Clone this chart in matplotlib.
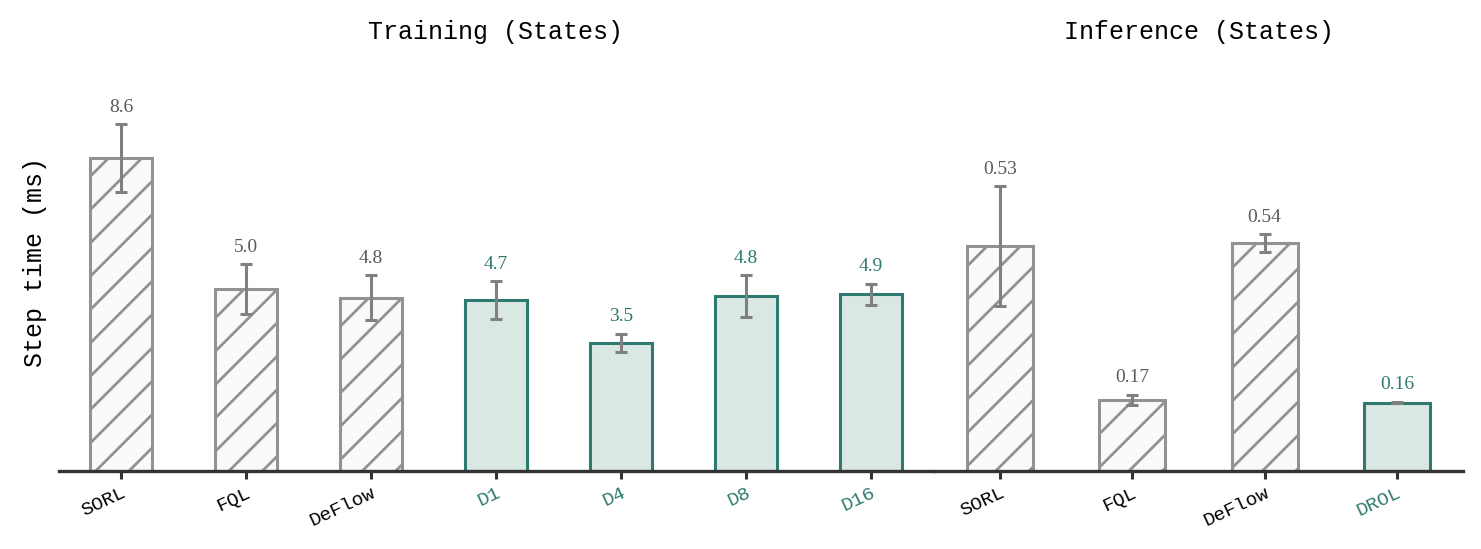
import numpy as np
import matplotlib
matplotlib.use('Agg')
import matplotlib.pyplot as plt


train_methods = ['SORL', 'FQL', 'DeFlow', 'D1', 'D4', 'D8', 'D16']
train_means = [8.6, 5.0, 4.76, 4.7, 3.52, 4.81, 4.86]
train_errs = [0.93, 0.69, 0.62, 0.52, 0.26, 0.58, 0.29]
train_ours = [False, False, False, True, True, True, True]

infer_methods = ['SORL', 'FQL', 'DeFlow', 'DROL']
infer_means = [0.53, 0.167, 0.537, 0.161]
infer_errs = [0.141, 0.0126, 0.0205, 0.002]
infer_ours = [False, False, False, True]

GRAY_EDGE = '#929292'
GRAY_FILL = '#fafafa'
TEAL_EDGE = '#2e7a70'
TEAL_FILL = '#dae8e4'
MONO = 'Liberation Mono'
SERIF = 'Liberation Serif'

plt.rcParams['hatch.linewidth'] = 1.0

fig = plt.figure(figsize=(7.405, 2.745), dpi=200)
W, H = 1481, 549
ax1 = fig.add_axes([58.5 / W, 78 / H, 875 / W, 400 / H])
ax2 = fig.add_axes([934 / W, 78 / H, 529 / W, 400 / H])


def draw(ax, methods, means, errs, ours, ymax, fmt, title):
    x = np.arange(len(methods))
    for i in range(len(methods)):
        if ours[i]:
            ax.bar(x[i], means[i], 0.5, color=TEAL_FILL, edgecolor=TEAL_EDGE,
                   linewidth=1.1, zorder=2)
        else:
            ax.bar(x[i], means[i], 0.5, color=GRAY_FILL, edgecolor=GRAY_EDGE,
                   linewidth=1.1, hatch='//', zorder=2)
    ax.errorbar(x, means, yerr=errs, fmt='none', ecolor='#808080',
                elinewidth=1.1, capsize=2.3, capthick=1.1, zorder=3)
    for i in range(len(methods)):
        c = TEAL_EDGE if ours[i] else '#5a5a5a'
        ax.annotate(fmt.format(means[i]), (x[i], means[i] + errs[i]),
                    xytext=(0, 3), textcoords='offset points', ha='center',
                    va='bottom', fontsize=7, family=SERIF, color=c)
    ax.set_xlim(-0.5, len(methods) - 0.5)
    ax.set_ylim(0, ymax)
    ax.set_xticks(x)
    ax.set_xticklabels(methods, rotation=25, ha='right', rotation_mode='anchor',
                       fontsize=7, family=MONO)
    for lbl, o in zip(ax.get_xticklabels(), ours):
        lbl.set_color(TEAL_EDGE if o else 'black')
    ax.set_yticks([])
    for s in ['left', 'right', 'top']:
        ax.spines[s].set_visible(False)
    ax.spines['bottom'].set_color('#333333')
    ax.spines['bottom'].set_linewidth(1.2)
    ax.tick_params(axis='x', length=2.8, width=1.1, color='#333333', pad=2)
    ax.set_title(title, fontsize=9, family=MONO, pad=0, y=1.08)


draw(ax1, train_methods, train_means, train_errs, train_ours, 11.0, '{:.1f}',
     'Training (States)')
draw(ax2, infer_methods, infer_means, infer_errs, infer_ours, 0.942, '{:.2f}',
     'Inference (States)')

fig.text(35 / W, 1 - 262 / H, 'Step time (ms)', rotation=90, ha='center',
         va='center', fontsize=9, family=MONO)

fig.savefig('out.png', dpi=200)
